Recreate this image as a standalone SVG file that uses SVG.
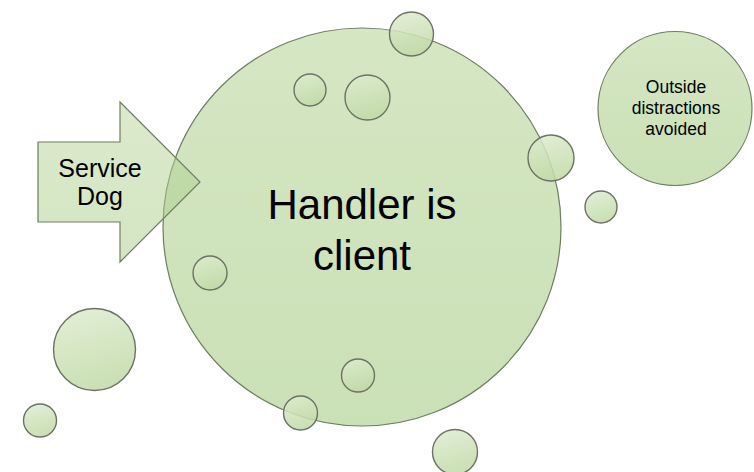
<svg xmlns="http://www.w3.org/2000/svg" width="754" height="472" viewBox="0 0 754 472">
  <style>
    .shape { fill: url(#g); stroke: #6f7d63; stroke-width: 1.2; }
    .arrow { fill: url(#ga); stroke: #6f7d63; stroke-width: 1.2; }
    .bubble { fill: url(#gb); stroke: #6c7266; stroke-width: 1.4; }
    .txt { font-family: "Liberation Sans", Arial, sans-serif; fill: #000; text-anchor: middle; }
  </style>
  <defs>
    <linearGradient id="g" x1="0" y1="0" x2="0" y2="1">
      <stop offset="0" stop-color="#b2d292" stop-opacity="0.55"/>
      <stop offset="1" stop-color="#9fc77a" stop-opacity="0.55"/>
    </linearGradient>
    <linearGradient id="ga" x1="0" y1="0" x2="0" y2="1">
      <stop offset="0" stop-color="#b6d599" stop-opacity="0.5"/>
      <stop offset="1" stop-color="#a8cc86" stop-opacity="0.5"/>
    </linearGradient>
    <linearGradient id="gb" x1="0.3" y1="0" x2="0.6" y2="1">
      <stop offset="0" stop-color="#dcebcd" stop-opacity="0.85"/>
      <stop offset="1" stop-color="#bfd9a4" stop-opacity="0.85"/>
    </linearGradient>
  </defs>
  <rect width="754" height="472" fill="#ffffff"/>

  <g id="node-handler">
    <circle class="shape" cx="362" cy="227" r="199"/>
    <text class="txt" x="362" y="219" font-size="42">Handler is</text>
    <text class="txt" x="362" y="270" font-size="42">client</text>
  </g>

  <g id="node-service-dog">
    <polygon class="arrow" points="38,142 120,142 120,102 200,182 120,262 120,222 38,222"/>
    <text class="txt" x="100" y="177" font-size="25">Service</text>
    <text class="txt" x="100" y="205" font-size="25">Dog</text>
  </g>

  <g id="node-outside">
    <circle class="shape" cx="675" cy="108.5" r="77"/>
    <text class="txt" x="676" y="92.5" font-size="17.5">Outside</text>
    <text class="txt" x="676" y="113.5" font-size="17.5">distractions</text>
    <text class="txt" x="676" y="134.5" font-size="17.5">avoided</text>
  </g>

  <g id="bubbles">
    <circle class="bubble" cx="411.5" cy="34" r="22"/>
    <circle class="bubble" cx="310" cy="90" r="16"/>
    <circle class="bubble" cx="367.5" cy="97.5" r="22.5"/>
    <circle class="bubble" cx="551" cy="158" r="23"/>
    <circle class="bubble" cx="601" cy="207" r="16"/>
    <circle class="bubble" cx="210" cy="273" r="17"/>
    <circle class="bubble" cx="94.5" cy="349.5" r="41"/>
    <circle class="bubble" cx="40" cy="420.5" r="16.5"/>
    <circle class="bubble" cx="358" cy="375.5" r="16.5"/>
    <circle class="bubble" cx="300.5" cy="413" r="17"/>
    <circle class="bubble" cx="455" cy="452" r="22.5"/>
  </g>

  <g id="connectors"></g>
</svg>
